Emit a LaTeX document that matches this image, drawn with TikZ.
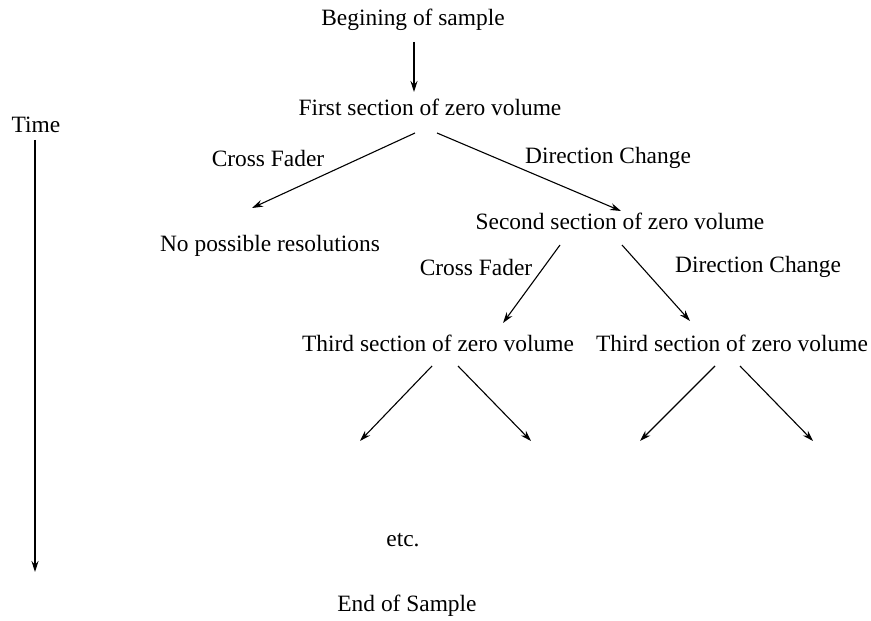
\documentclass[tikz,border=0pt]{standalone}
\usepackage{fontspec}
\setmainfont{Liberation Serif}
\usetikzlibrary{arrows.meta}
\begin{document}
\begin{tikzpicture}[x=1bp,y=-1bp,
  lbl/.style={inner sep=0pt, font=\fontsize{23.5}{28}\selectfont},
  arr/.style={line width=1.1bp, -{Stealth[length=11bp,width=7bp]}}]
\useasboundingbox (0,0) rectangle (871,621);
% nodes
\node[lbl] (begin) at (413,20) {Begining of sample};
\node[lbl] (first) at (430,107) {First section of zero volume};
\node[lbl] (time) at (36,125) {Time};
\node[lbl] (cf1) at (268,158) {Cross Fader};
\node[lbl] (dc1) at (608,158) {Direction Change};
\node[lbl] (nopos) at (270,246) {No possible resolutions};
\node[lbl] (second) at (620,221) {Second section of zero volume};
\node[lbl] (cf2) at (476,267) {Cross Fader};
\node[lbl] (dc2) at (758,267) {Direction Change};
\node[lbl] (thirdL) at (438,343) {Third section of zero volume};
\node[lbl] (thirdR) at (732,343) {Third section of zero volume};
\node[lbl] (etc) at (403,540) {etc.};
\node[lbl] (end) at (407,606) {End of Sample};
% connector end points
\coordinate (b0) at (414,42);  \coordinate (b1) at (414,92);
\coordinate (t0) at (35,140);  \coordinate (t1) at (35,572);
\coordinate (f0) at (415,133); \coordinate (f1) at (252,208);
\coordinate (g0) at (437,133); \coordinate (g1) at (621,211);
\coordinate (s0) at (560,245); \coordinate (s1) at (503,323);
\coordinate (r0) at (622,245); \coordinate (r1) at (690,321);
\coordinate (a0) at (432,366); \coordinate (a1) at (360,441);
\coordinate (c0) at (458,366); \coordinate (c1) at (531,441);
\coordinate (d0) at (715,366); \coordinate (d1) at (640,441);
\coordinate (e0) at (740,366); \coordinate (e1) at (813,441);
% connectors
\draw[arr] (b0) -- (b1);
\draw[arr] (t0) -- (t1);
\draw[arr] (f0) -- (f1);
\draw[arr] (g0) -- (g1);
\draw[arr] (s0) -- (s1);
\draw[arr] (r0) -- (r1);
\draw[arr] (a0) -- (a1);
\draw[arr] (c0) -- (c1);
\draw[arr] (d0) -- (d1);
\draw[arr] (e0) -- (e1);
\end{tikzpicture}
\end{document}
